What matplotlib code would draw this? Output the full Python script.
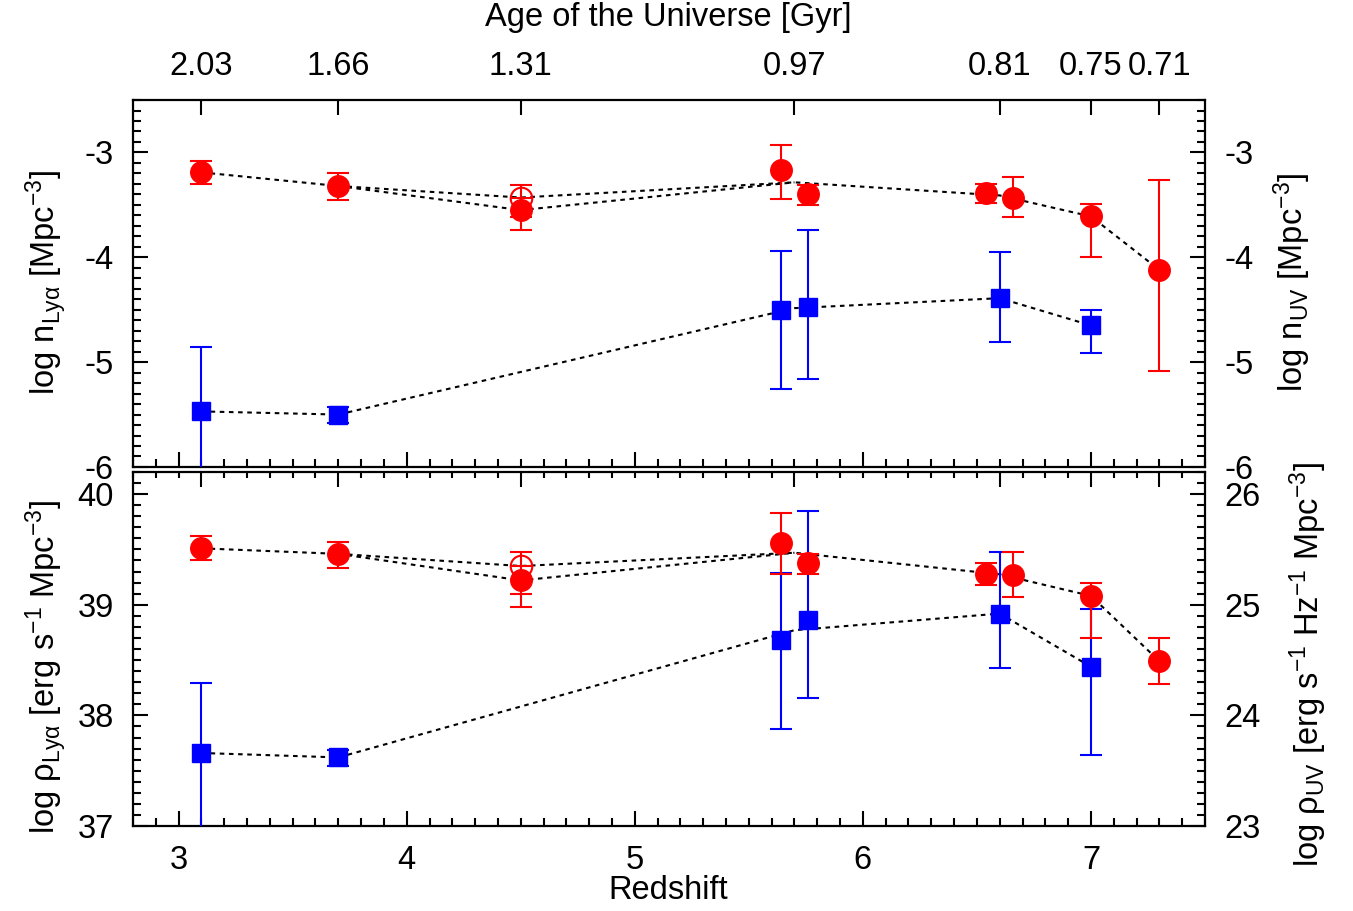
import numpy as np
import matplotlib
matplotlib.use("Agg")
import matplotlib.pyplot as plt
from matplotlib.ticker import MultipleLocator, FixedLocator, NullLocator

plt.rcParams['font.family'] = ['Liberation Sans', 'DejaVu Sans']
plt.rcParams['mathtext.fontset'] = 'custom'
plt.rcParams['mathtext.rm'] = 'Liberation Sans'
plt.rcParams['mathtext.it'] = 'Liberation Sans'
plt.rcParams['font.size'] = 23.5

# --- data ---
# red points (Lya emitters), two surveys at 5.7 and 6.6 drawn side by side
z_red = [3.1, 3.7, 4.5, 5.64, 5.76, 6.54, 6.66, 7.0, 7.3]
n_red = [-3.19, -3.32, -3.55, -3.17, -3.40, -3.39, -3.43, -3.61, -4.12]
n_red_up = [0.11, 0.12, 0.12, 0.24, 0.09, 0.09, 0.20, 0.12, 0.86]
n_red_lo = [0.11, 0.13, 0.19, 0.27, 0.10, 0.09, 0.19, 0.39, 0.96]
rho_red = [39.51, 39.46, 39.22, 39.56, 39.38, 39.28, 39.27, 39.08, 38.49]
rho_red_up = [0.11, 0.11, 0.13, 0.27, 0.08, 0.10, 0.21, 0.12, 0.21]
rho_red_lo = [0.11, 0.13, 0.24, 0.28, 0.10, 0.10, 0.20, 0.38, 0.21]

# open red point at z=4.5
z_open = [4.5]
n_open = [-3.43]
n_open_up = [0.12]
n_open_lo = [0.19]
rho_open = [39.35]
rho_open_up = [0.13]
rho_open_lo = [0.25]

# blue points (UV)
z_blue = [3.1, 3.7, 5.64, 5.76, 6.6, 7.0]
n_blue = [-5.47, -5.50, -4.50, -4.47, -4.39, -4.65]
n_blue_up = [0.61, 0.07, 0.56, 0.73, 0.44, 0.15]
n_blue_lo = [0.61, 0.08, 0.76, 0.69, 0.42, 0.26]
rho_blue = [37.66, 37.62, 38.68, 38.86, 38.92, 38.44]
rho_blue_up = [0.63, 0.07, 0.61, 0.99, 0.56, 0.52]
rho_blue_lo = [0.70, 0.08, 0.80, 0.70, 0.49, 0.80]

# top axis: age of the universe at the survey redshifts
age_z = [3.1, 3.7, 4.5, 5.7, 6.6, 7.0, 7.3]
age_labels = ['2.03', '1.66', '1.31', '0.97', '0.81', '0.75', '0.71']


def nominal_line(z, v, groups):
    # average points that share a nominal redshift (5.7 and 6.6)
    z = np.array(z)
    v = np.array(v)
    zz, vv = [], []
    for zn in groups:
        sel = np.abs(z - zn) < 0.1
        if sel.any():
            zz.append(zn)
            vv.append(v[sel].mean())
    return zz, vv


def style_axes(ax, ylo, yhi, ymaj, bottom_labels):
    ax.set_xlim(2.8, 7.5)
    ax.set_ylim(ylo, yhi)
    ax.xaxis.set_major_locator(MultipleLocator(1))
    ax.xaxis.set_minor_locator(MultipleLocator(0.1))
    ax.yaxis.set_major_locator(MultipleLocator(ymaj))
    ax.yaxis.set_minor_locator(MultipleLocator(0.1))
    ax.tick_params(which='both', direction='in', width=1.5, top=False, right=False)
    ax.tick_params(which='major', length=11, pad=14)
    ax.tick_params(which='minor', length=5.5)
    ax.tick_params(axis='x', labelbottom=bottom_labels)
    for s in ax.spines.values():
        s.set_linewidth(1.6)


def draw_panel(ax, yr, yr_up, yr_lo, yo, yo_up, yo_lo, yb, yb_up, yb_lo):
    lkw = dict(color='black', ls=(0, (2.2, 2.2)), lw=1.5, zorder=1)
    # red dotted lines: main one through the open point, second through the filled one
    zr_all = list(z_red[:2]) + z_open + list(z_red[3:])
    yr_all = list(yr[:2]) + yo + list(yr[3:])
    lz, lv = nominal_line(zr_all, yr_all, age_z)
    ax.plot(lz, lv, **lkw)
    ax.plot([z_red[1], z_red[2], lz[3]], [yr[1], yr[2], lv[3]], **lkw)
    bz, bv = nominal_line(z_blue, yb, age_z)
    ax.plot(bz, bv, **lkw)

    ekw = dict(ls='none', capsize=8, elinewidth=1.5, capthick=1.5, zorder=3)
    ax.errorbar(z_blue, yb, yerr=[yb_lo, yb_up], fmt='s', ms=13,
                color='#0000ff', **ekw)
    ax.errorbar(z_red, yr, yerr=[yr_lo, yr_up], fmt='o', ms=15.5,
                color='#ff0000', **ekw)
    ax.errorbar(z_open, yo, yerr=[yo_lo, yo_up], fmt='o', ms=15.5, mfc='none',
                mew=1.5, color='#ff0000', **ekw)


fig = plt.figure(figsize=(13.53, 9.11), dpi=100)
ax1 = fig.add_axes([0.0983, 0.4874, 0.7923, 0.4028])
ax2 = fig.add_axes([0.0983, 0.0933, 0.7923, 0.3886])

style_axes(ax1, -6, -2.5, 1, False)
style_axes(ax2, 37, 40.2, 1, True)
ax1.set_yticks([-3, -4, -5, -6])
ax1.set_yticklabels(['-3', '-4', '-5', '-6'])

draw_panel(ax1, n_red, n_red_up, n_red_lo, n_open, n_open_up, n_open_lo,
           n_blue, n_blue_up, n_blue_lo)
draw_panel(ax2, rho_red, rho_red_up, rho_red_lo, rho_open, rho_open_up, rho_open_lo,
           rho_blue, rho_blue_up, rho_blue_lo)

# right-hand axes
for ax, lo, hi, ticks in [(ax1, -6, -2.5, [-3, -4, -5, -6]), (ax2, 23, 26.2, [23, 24, 25, 26])]:
    axr = ax.twinx()
    axr.set_ylim(lo, hi)
    axr.set_yticks(ticks)
    axr.set_yticklabels([str(t) for t in ticks])
    axr.yaxis.set_minor_locator(MultipleLocator(0.1))
    axr.tick_params(which='both', direction='in', width=1.5)
    axr.tick_params(which='major', length=11, pad=14)
    axr.tick_params(which='minor', length=5.5)
    for s in axr.spines.values():
        s.set_visible(False)

# age ticks along the top of both panels
for ax, labels in [(ax1, True), (ax2, False)]:
    axt = ax.twiny()
    axt.set_xlim(2.8, 7.5)
    axt.xaxis.set_major_locator(FixedLocator(age_z))
    if labels:
        axt.set_xticklabels(age_labels)
        axt.xaxis.set_minor_locator(NullLocator())
    else:
        axt.set_xticklabels([])
        axt.xaxis.set_minor_locator(MultipleLocator(0.1))
    axt.tick_params(which='both', direction='in', width=1.5)
    axt.tick_params(which='major', length=11, pad=13)
    axt.tick_params(which='minor', length=4)
    for s in axt.spines.values():
        s.set_visible(False)

fig.text(0.494, 0.981, 'Age of the Universe [Gyr]', ha='center', va='center')
fig.text(0.494, 0.022, 'Redshift', ha='center', va='center')
fig.text(0.034, 0.690, r'log n$_{\mathrm{Lyα}}$ [Mpc$^{-3}$]',
         rotation=90, ha='center', va='center')
fig.text(0.034, 0.268, r'log ρ$_{\mathrm{Lyα}}$ [erg s$^{-1}$ Mpc$^{-3}$]',
         rotation=90, ha='center', va='center')
fig.text(0.955, 0.690, r'log n$_{\mathrm{UV}}$ [Mpc$^{-3}$]',
         rotation=90, ha='center', va='center')
fig.text(0.967, 0.270, r'log ρ$_{\mathrm{UV}}$ [erg s$^{-1}$ Hz$^{-1}$ Mpc$^{-3}$]',
         rotation=90, ha='center', va='center')

fig.savefig('out.png', dpi=100)
